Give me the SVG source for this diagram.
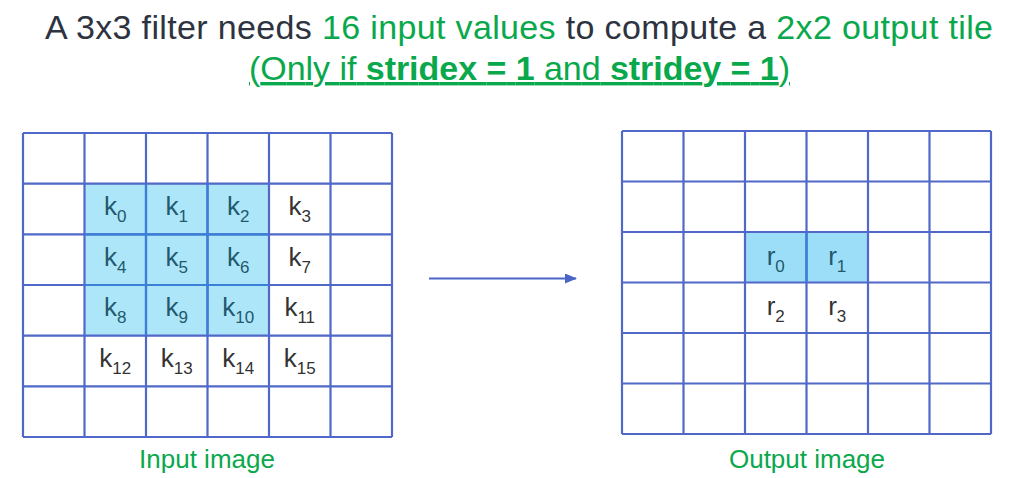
<svg xmlns="http://www.w3.org/2000/svg" width="1019" height="478" viewBox="0 0 1019 478">
<defs>
<style>
text{font-family:"Liberation Sans",Arial,sans-serif}
.title{font-size:34px;fill:#2d3340}
.g{fill:#0aa84c}
.grid{fill:none;stroke:#5068c8;stroke-width:2.2}
.inner{fill:none;stroke:#3a80d8;stroke-width:2.2}
.hl{fill:#ade6f8}
.hl2{fill:#9cdef7}
.cell{font-size:26px;fill:#333;text-anchor:middle}
.cell.in{fill:#22596e}
.sub{font-size:17px}
.lab{font-size:26px;fill:#0aa84c;text-anchor:middle}
</style>
<marker id="ah" markerWidth="12" markerHeight="10" refX="11" refY="5" orient="auto" markerUnits="userSpaceOnUse">
<path d="M0,0 L12,5 L0,10 z" fill="#4a64c8"/>
</marker>
</defs>
<rect width="1019" height="478" fill="#fff"/>
<g id="title">
<text class="title" x="519" y="39" text-anchor="middle" textLength="948" lengthAdjust="spacing">A 3x3 filter needs <tspan class="g">16 input values</tspan> to compute a <tspan class="g">2x2 output tile</tspan></text>
<text class="title g" x="519.5" y="80" text-anchor="middle" text-decoration="underline" textLength="541" lengthAdjust="spacing">(Only if <tspan font-weight="bold">stridex = 1</tspan> and <tspan font-weight="bold">stridey = 1</tspan>)</text>
</g>
<g id="input-grid">
<rect class="hl" x="84.5" y="183.7" width="184.5" height="152"/>
<path class="grid" d="M23,133V437M84.5,133V437M146,133V437M207.5,133V437M269,133V437M330.5,133V437M392,133V437M23,133H392M23,183.7H392M23,234.3H392M23,285H392M23,335.7H392M23,386.3H392M23,437H392"/>
<path class="inner" d="M146,184.8V334.6M207.5,184.8V334.6M85.6,234.3H267.9M85.6,285H267.9"/>
<text class="cell in" x="115.25" y="215">k<tspan class="sub" dy="7">0</tspan></text>
<text class="cell in" x="176.75" y="215">k<tspan class="sub" dy="7">1</tspan></text>
<text class="cell in" x="238.25" y="215">k<tspan class="sub" dy="7">2</tspan></text>
<text class="cell" x="299.75" y="215">k<tspan class="sub" dy="7">3</tspan></text>
<text class="cell in" x="115.25" y="265.7">k<tspan class="sub" dy="7">4</tspan></text>
<text class="cell in" x="176.75" y="265.7">k<tspan class="sub" dy="7">5</tspan></text>
<text class="cell in" x="238.25" y="265.7">k<tspan class="sub" dy="7">6</tspan></text>
<text class="cell" x="299.75" y="265.7">k<tspan class="sub" dy="7">7</tspan></text>
<text class="cell in" x="115.25" y="316.3">k<tspan class="sub" dy="7">8</tspan></text>
<text class="cell in" x="176.75" y="316.3">k<tspan class="sub" dy="7">9</tspan></text>
<text class="cell in" x="238.25" y="316.3">k<tspan class="sub" dy="7">10</tspan></text>
<text class="cell" x="299.75" y="316.3">k<tspan class="sub" dy="7">11</tspan></text>
<text class="cell" x="115.25" y="367">k<tspan class="sub" dy="7">12</tspan></text>
<text class="cell" x="176.75" y="367">k<tspan class="sub" dy="7">13</tspan></text>
<text class="cell" x="238.25" y="367">k<tspan class="sub" dy="7">14</tspan></text>
<text class="cell" x="299.75" y="367">k<tspan class="sub" dy="7">15</tspan></text>
</g>
<g id="output-grid">
<rect class="hl2" x="745" y="232" width="123" height="50.5"/>
<path class="grid" d="M622,131V434M683.5,131V434M745,131V434M806.5,131V434M868,131V434M929.5,131V434M991,131V434M622,131H991M622,181.5H991M622,232H991M622,282.5H991M622,333H991M622,383.5H991M622,434H991"/>
<path class="inner" d="M806.5,233.1V281.4"/>
<text class="cell in" x="775.75" y="264.5">r<tspan class="sub" dy="7">0</tspan></text>
<text class="cell in" x="837.25" y="264.5">r<tspan class="sub" dy="7">1</tspan></text>
<text class="cell" x="775.75" y="315">r<tspan class="sub" dy="7">2</tspan></text>
<text class="cell" x="837.25" y="315">r<tspan class="sub" dy="7">3</tspan></text>
</g>
<g id="connectors">
<line x1="429" y1="278.5" x2="576" y2="278.5" stroke="#4a64c8" stroke-width="2" marker-end="url(#ah)"/>
</g>
<g id="labels">
<text class="lab" x="207" y="468">Input image</text>
<text class="lab" x="807" y="468">Output image</text>
</g>
</svg>
